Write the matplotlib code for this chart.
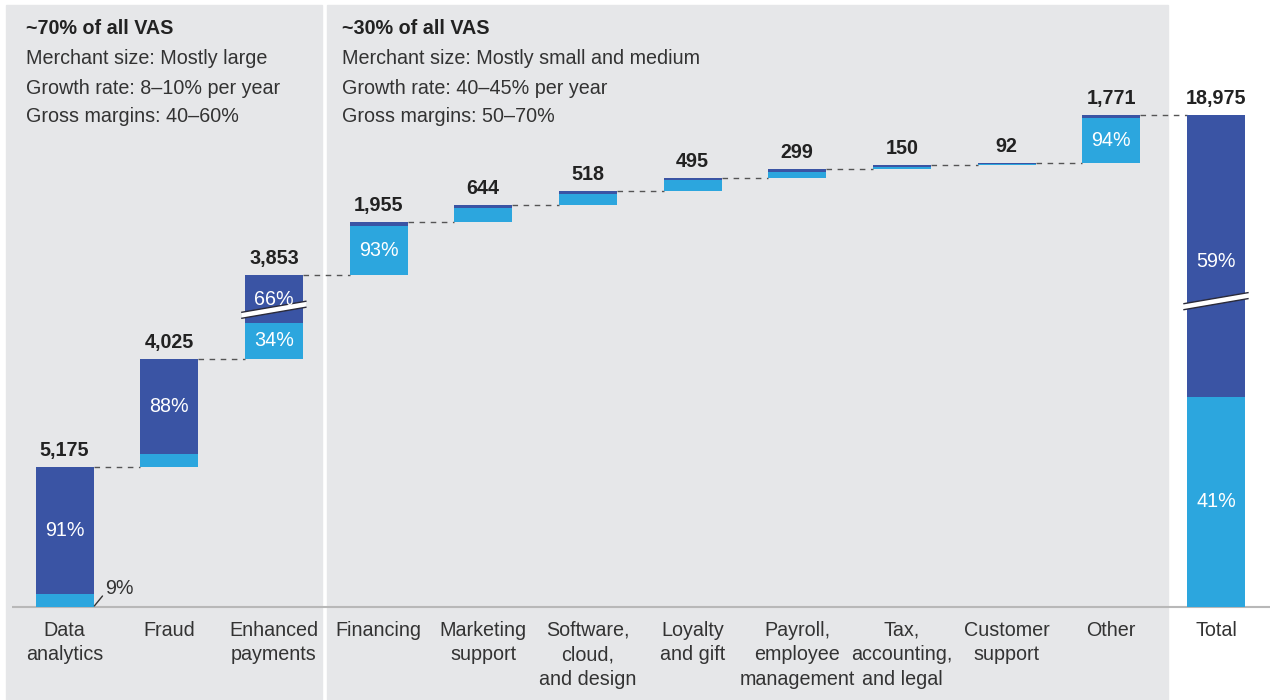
import matplotlib
matplotlib.use("Agg")
import matplotlib.pyplot as plt
from matplotlib.patches import Rectangle, Polygon
import numpy as np

plt.rcParams['font.family'] = ['Liberation Sans', 'DejaVu Sans']

# ---------------- data ----------------
categories = ["Data\nanalytics", "Fraud", "Enhanced\npayments", "Financing",
              "Marketing\nsupport", "Software,\ncloud,\nand design", "Loyalty\nand gift",
              "Payroll,\nemployee\nmanagement", "Tax,\naccounting,\nand legal",
              "Customer\nsupport", "Other"]
total_label = "Total"
values = [5175, 4025, 3853, 1955, 644, 518, 495, 299, 150, 92, 1771]
total_value = 18975
dark_share = [0.91, 0.88, 0.66, 0.07, 0.17, 0.19, 0.21, 0.30, 0.40, 0.60, 0.06]
total_dark_share = 0.59
dark_labels = {0: "91%", 1: "88%", 2: "66%"}
light_labels = {2: "34%", 3: "93%", 10: "94%"}
outside_label = {0: "9%"}
total_dark_label = "59%"
total_light_label = "41%"

panel_left = ["~70% of all VAS", "Merchant size: Mostly large",
              "Growth rate: 8\u201310% per year", "Gross margins: 40\u201360%"]
panel_right = ["~30% of all VAS", "Merchant size: Mostly small and medium",
               "Growth rate: 40\u201345% per year", "Gross margins: 50\u201370%"]

# ---------------- style ----------------
W, H = 1274, 700
DARK = "#3a54a4"
LIGHT = "#2ca6de"
BG = "#e6e7e9"
TXT = "#222222"
S = 0.0270           # px per unit
PX = 104.68          # px per category
BAR_W = 58 / PX
BREAK = 760          # units removed by axis break
break_frac = {2: 0.28, "total": 0.34}
FS = 14.2

fig = plt.figure(figsize=(W / 100, H / 100), dpi=100)
fig.patch.set_facecolor("white")
fig.patches.append(Rectangle((6 / W, 0), (322 - 6) / W, (H - 5) / H,
                             transform=fig.transFigure, color=BG, zorder=-5))
fig.patches.append(Rectangle((327 / W, 0), (1168 - 327) / W, (H - 5) / H,
                             transform=fig.transFigure, color=BG, zorder=-5))

base_px = 607
ax = fig.add_axes([0, (H - base_px) / H, 1, base_px / H])
ax.set_zorder(2)
ax.set_facecolor("none")
x0 = 64.5 / PX
ax.set_xlim(-x0, (W - 64.5) / PX)
ax.set_ylim(0, base_px / S)
ax.axis("off")

# baseline
ax.plot([-x0 + 12 / PX, (W - 64.5 - 4) / PX], [0, 0], color="#b8b8b8", lw=1.5,
        zorder=1, solid_capstyle="butt", clip_on=False)


def draw_break(xc, yc):
    rise = 11 / S                    # units over the full band width
    thick = 6 / S
    half_w = BAR_W / 2 + 3 / PX
    slope = rise / (2 * half_w)
    xs = np.array([xc - half_w, xc + half_w])
    lo = yc - thick / 2 + slope * (xs - xc)
    hi = yc + thick / 2 + slope * (xs - xc)
    poly = Polygon([[xs[0], lo[0]], [xs[1], lo[1]], [xs[1], hi[1]], [xs[0], hi[0]]],
                   closed=True, facecolor="white", edgecolor="none", zorder=4)
    ax.add_patch(poly)
    ax.plot(xs, lo, color="#2a2a3a", lw=1, zorder=5)
    ax.plot(xs, hi, color="#2a2a3a", lw=1, zorder=5)


cum = 0.0
tops = []
for i, v in enumerate(values):
    light = v * (1 - dark_share[i])
    dark = v * dark_share[i]
    if i == 2:
        dark -= BREAK
    ax.bar(i, light, bottom=cum, width=BAR_W, color=LIGHT, zorder=3)
    ax.bar(i, dark, bottom=cum + light, width=BAR_W, color=DARK, zorder=3)
    if i in dark_labels:
        ax.text(i, cum + light + dark / 2, dark_labels[i], ha="center", va="center",
                color="white", fontsize=FS, zorder=6)
    if i in light_labels:
        ax.text(i, cum + light / 2, light_labels[i], ha="center", va="center",
                color="white", fontsize=FS, zorder=6)
    if i in outside_label:
        corner = (i + BAR_W / 2, cum)
        ax.annotate("", xy=corner, xytext=(9, 11), textcoords="offset pixels",
                    arrowprops=dict(arrowstyle="-", color="#333333", lw=1,
                                    shrinkA=0, shrinkB=1), zorder=6,
                    annotation_clip=False)
        ax.annotate(outside_label[i], xy=corner, xytext=(12, 18),
                    textcoords="offset pixels", ha="left", va="center",
                    color="#333333", fontsize=FS, zorder=6)
    if i == 2:
        draw_break(i, cum + light + dark * break_frac[2])
    top = cum + light + dark
    ax.annotate(f"{v:,}", xy=(i, top), xytext=(0, 7), textcoords="offset pixels",
                ha="center", va="bottom", fontsize=FS, fontweight="bold", color=TXT)
    tops.append(top)
    cum = top

# total bar
ti = len(values)
t_light = total_value * (1 - total_dark_share)
t_dark = total_value * total_dark_share - BREAK
ax.bar(ti, t_light, width=BAR_W, color=LIGHT, zorder=3)
ax.bar(ti, t_dark, bottom=t_light, width=BAR_W, color=DARK, zorder=3)
ax.text(ti, t_light / 2, total_light_label, ha="center", va="center", color="white",
        fontsize=FS, zorder=6)
ax.text(ti, t_light + t_dark * 0.48, total_dark_label, ha="center", va="center",
        color="white", fontsize=FS, zorder=6)
draw_break(ti, t_light + t_dark * break_frac["total"])
ax.annotate(f"{total_value:,}", xy=(ti, t_light + t_dark), xytext=(0, 7),
            textcoords="offset pixels", ha="center", va="bottom", fontsize=FS,
            fontweight="bold", color=TXT)
tops.append(t_light + t_dark)

# connectors
for i in range(len(values)):
    ax.plot([i + BAR_W / 2, i + 1 - BAR_W / 2], [tops[i], tops[i]], color="#555555",
            lw=1, ls=(0, (4, 4)), zorder=2)

# category labels
for i, lab in enumerate(categories + [total_label]):
    ax.annotate(lab, xy=(i, 0), xytext=(0, -14), textcoords="offset pixels",
                ha="center", va="top", fontsize=FS, color="#333333",
                linespacing=1.36, annotation_clip=False)

# panel texts
for lines, xpx in ((panel_left, 26), (panel_right, 342)):
    for k, line in enumerate(lines):
        ypx = [34.5, 64.5, 93.5, 122.5][k]
        fig.text(xpx / W, 1 - ypx / H, line, ha="left", va="baseline", fontsize=FS,
                 fontweight="bold" if k == 0 else "normal",
                 color=TXT if k == 0 else "#333333")

fig.savefig("out.png", dpi=100, facecolor="white")
